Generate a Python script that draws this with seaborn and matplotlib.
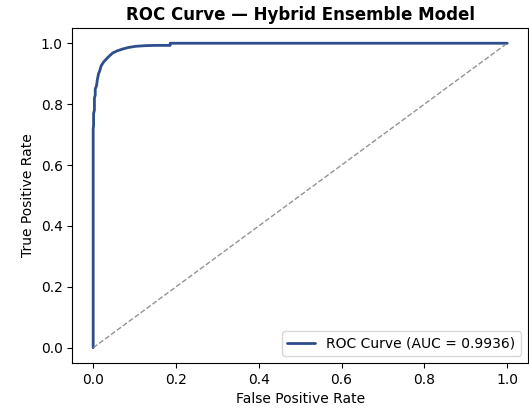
import numpy as np
import pandas as pd
import matplotlib
matplotlib.use('Agg')
import matplotlib.pyplot as plt
import seaborn as sns

# ROC points
fpr = [0.0, 0.0, 0.001, 0.001, 0.003, 0.003, 0.005, 0.005, 0.008, 0.010, 0.013,
       0.016, 0.019, 0.025, 0.031, 0.039, 0.047, 0.058, 0.071, 0.085, 0.103,
       0.125, 0.150, 0.186, 0.186, 1.0]
tpr = [0.0, 0.72, 0.73, 0.77, 0.78, 0.82, 0.83, 0.85, 0.86, 0.88, 0.90,
       0.91, 0.925, 0.938, 0.947, 0.958, 0.968, 0.975, 0.981, 0.986, 0.990,
       0.992, 0.993, 0.993, 1.0, 1.0]
auc_value = 0.9936

sns.set_style('ticks', rc={'axes.edgecolor': 'black', 'xtick.color': 'black',
                           'ytick.color': 'black', 'text.color': 'black',
                           'axes.labelcolor': 'black'})
plt.rcParams['font.family'] = ['DejaVu Sans']

df = pd.DataFrame({'fpr': fpr, 'tpr': tpr})

fig, ax = plt.subplots(figsize=(5.29, 4.12), dpi=100)
fig.subplots_adjust(left=0.137, right=0.998, top=0.932, bottom=0.119)

sns.lineplot(x='fpr', y='tpr', data=df, sort=False, estimator=None,
             color='#2d4e8b', linewidth=2, label=f'ROC Curve (AUC = {auc_value:.4f})', ax=ax)
ax.plot([0, 1], [0, 1], linestyle='--', color='gray', linewidth=1, alpha=0.85)

ax.set_title('ROC Curve — Hybrid Ensemble Model', fontweight='bold', fontsize=12)
ax.set_xlabel('False Positive Rate')
ax.set_ylabel('True Positive Rate')
ax.legend(loc='lower right')

plt.savefig('out.png', dpi=100)
